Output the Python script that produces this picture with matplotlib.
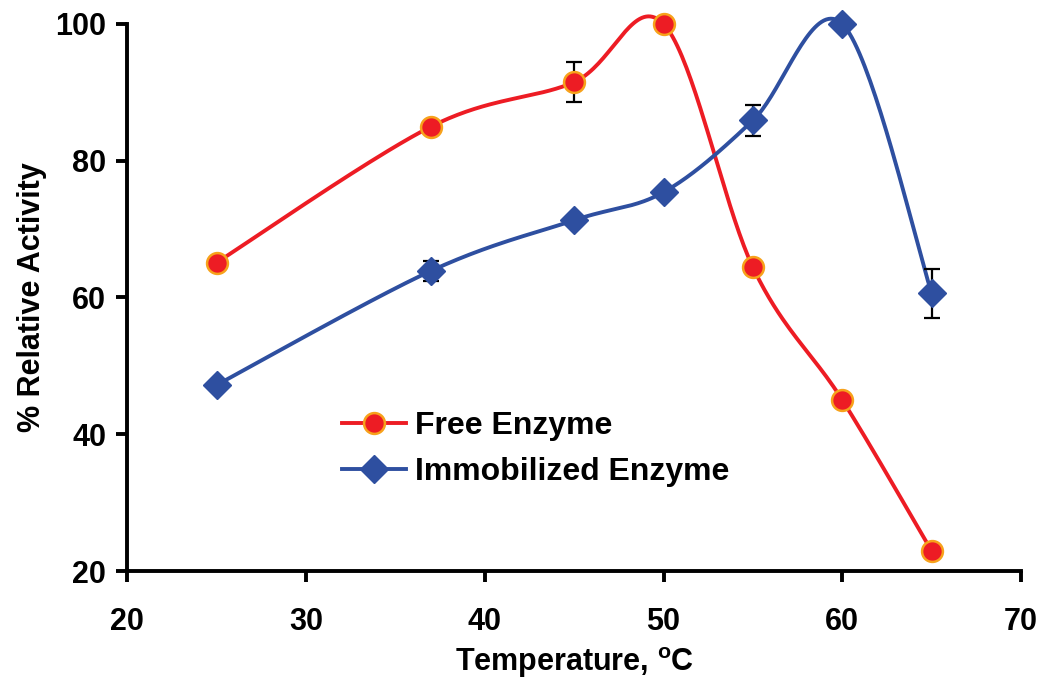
import numpy as np
import matplotlib
matplotlib.use("Agg")
import matplotlib.pyplot as plt
from matplotlib.lines import Line2D

# ---- data ----
temps = [25, 37, 45, 50, 55, 60, 65]
free_act = [65.1, 85.0, 91.5, 100.0, 64.4, 45.0, 22.9]
free_err = [0.6, 0.5, 2.9, 0.5, 0.9, 0.5, 0.5]
immob_act = [47.2, 63.9, 71.3, 75.4, 85.9, 100.0, 60.6]
immob_err = [0.5, 1.5, 0.5, 0.5, 2.3, 0.6, 3.6]
xticks = [20, 30, 40, 50, 60, 70]
yticks = [20, 40, 60, 80, 100]

plt.rcParams['font.family'] = ['Liberation Sans', 'DejaVu Sans']
plt.rcParams['font.weight'] = 'bold'
plt.rcParams['mathtext.fontset'] = 'custom'
plt.rcParams['mathtext.rm'] = 'Liberation Sans:bold'
plt.rcParams['mathtext.bf'] = 'Liberation Sans:bold'


def smooth(x, y, n=40):
    """Excel-like smoothed line (Catmull-Rom / Bezier) through the points."""
    x = np.asarray(x, float)
    y = np.asarray(y, float)
    P = np.column_stack([x, y])
    out = []
    for i in range(len(P) - 1):
        p0 = P[i - 1] if i > 0 else P[i]
        p1 = P[i]
        p2 = P[i + 1]
        p3 = P[i + 2] if i + 2 < len(P) else P[i + 1]
        c1 = p1 + (p2 - p0) / 6.0
        c2 = p2 - (p3 - p1) / 6.0
        t = np.linspace(0, 1, n)[:, None]
        seg = ((1 - t) ** 3) * p1 + 3 * ((1 - t) ** 2) * t * c1 + 3 * (1 - t) * t ** 2 * c2 + t ** 3 * p2
        out.append(seg if i == 0 else seg[1:])
    S = np.vstack(out)
    return S[:, 0], S[:, 1]


red = '#ED1C24'
orange = '#F7A21B'
blue = '#2E4FA0'
FS = 22

fig = plt.figure(figsize=(10.42, 6.85), dpi=100)
ax = fig.add_axes([0.122, 0.1664, 0.858, 0.7986])

sx, sy = smooth(temps, free_act)
ax.plot(sx, sy, color=red, lw=2.8, zorder=2, clip_on=False)
sx, sy = smooth(temps, immob_act)
ax.plot(sx, sy, color=blue, lw=2.8, zorder=2, clip_on=False)

ax.errorbar(temps, free_act, yerr=free_err, fmt='none', ecolor='black',
            elinewidth=1.6, capsize=5.5, capthick=1.6, zorder=3, clip_on=False)
ax.errorbar(temps, immob_act, yerr=immob_err, fmt='none', ecolor='black',
            elinewidth=1.6, capsize=5.5, capthick=1.6, zorder=3, clip_on=False)

ax.plot(temps, free_act, 'o', ms=15, mfc=red, mec=orange, mew=1.8, zorder=4, clip_on=False)
ax.plot(temps, immob_act, 'D', ms=14, mfc=blue, mec=blue, mew=1, zorder=4, clip_on=False)

ax.set_xlim(20, 70)
ax.set_ylim(20, 100)
ax.set_xticks(xticks)
ax.set_yticks(yticks)
for s in ['top', 'right']:
    ax.spines[s].set_visible(False)
for s in ['left', 'bottom']:
    ax.spines[s].set_linewidth(2.8)
ax.tick_params(axis='both', direction='out', length=8, width=2.8, labelsize=FS)
ax.tick_params(axis='x', pad=18)
ax.tick_params(axis='y', pad=7)
for lab in ax.get_xticklabels() + ax.get_yticklabels():
    lab.set_fontweight('bold')

ax.set_xlabel(r'Temperature, $^{\mathrm{o}}$C', fontsize=FS, fontweight='bold', labelpad=6)
ax.set_ylabel('% Relative Activity', fontsize=FS, fontweight='bold', labelpad=6)

handles = [
    Line2D([], [], color=red, lw=2.8, marker='o', ms=15, mfc=red, mec=orange, mew=1.8),
    Line2D([], [], color=blue, lw=2.8, marker='D', ms=14, mfc=blue, mec=blue),
]
ax.legend(handles, ['Free Enzyme', 'Immobilized Enzyme'], loc='upper left',
          bbox_to_anchor=(0.208, 0.345), frameon=False,
          handlelength=2.0, handletextpad=0.3, labelspacing=0.5,
          prop={'weight': 'bold', 'size': 23})

fig.savefig('out.png', dpi=100)
